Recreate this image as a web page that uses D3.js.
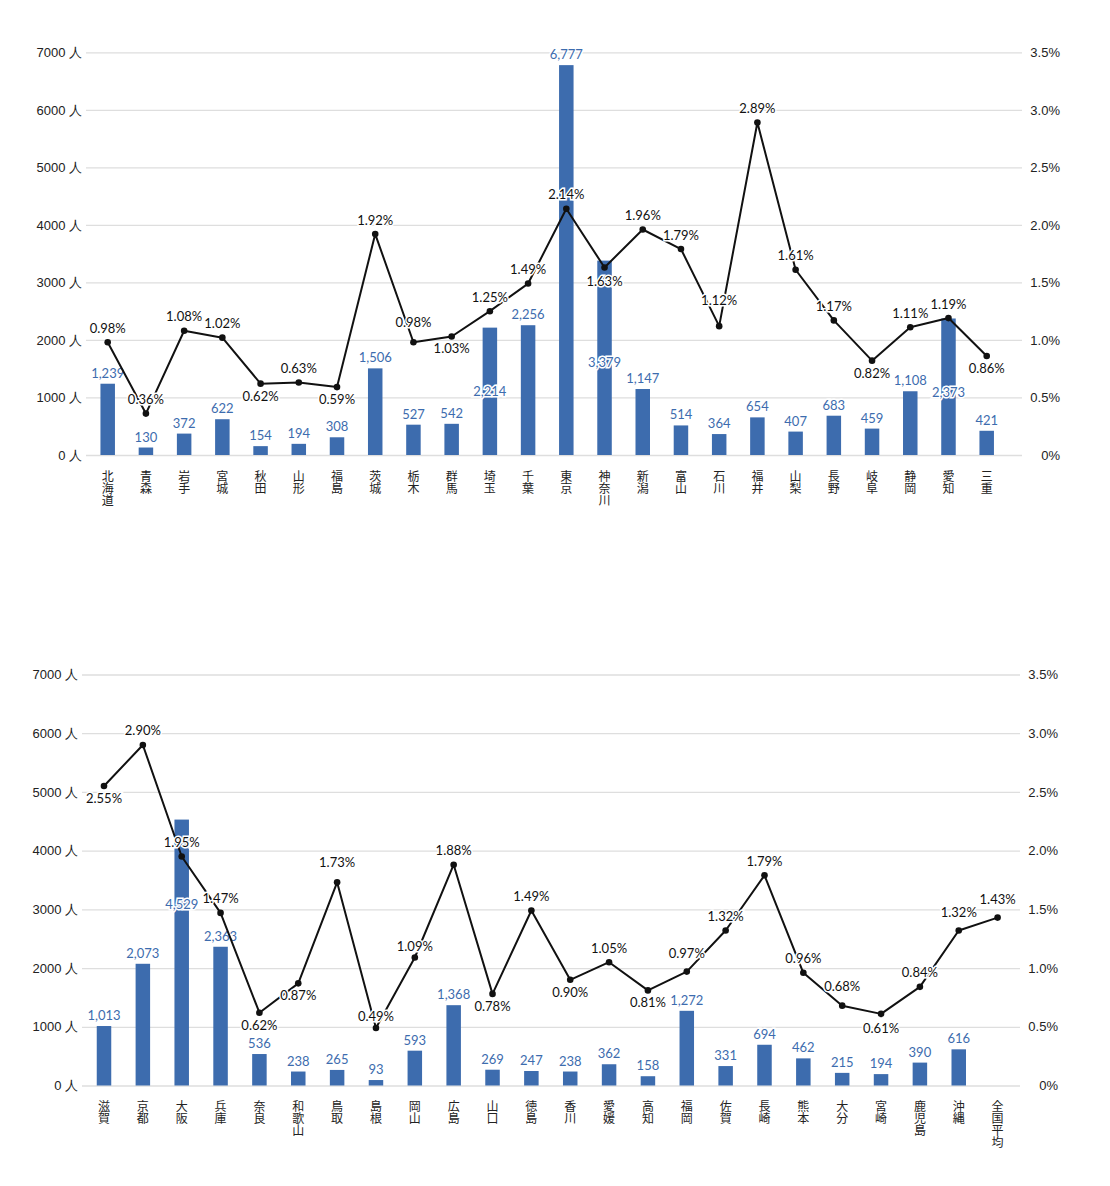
<!DOCTYPE html>
<html>
<head>
<meta charset="utf-8">
<script src="https://cdn.jsdelivr.net/npm/d3@7"></script>
<style>
  body { margin: 0; background: #fff; }
  svg { display: block; font-family: Lato, "Noto Sans CJK JP", sans-serif; }
</style>
</head>
<body>
<svg id="chart" width="1110" height="1186"></svg>
<script>
// top chart: 北海道 .. 三重
const catsTop = ["北海道","青森","岩手","宮城","秋田","山形","福島","茨城","栃木","群馬","埼玉","千葉","東京","神奈川","新潟","富山","石川","福井","山梨","長野","岐阜","静岡","愛知","三重"];
const countsTop = [1239,130,372,622,154,194,308,1506,527,542,2214,2256,6777,3379,1147,514,364,654,407,683,459,1108,2373,421];
const ratesTop = [0.98,0.36,1.08,1.02,0.62,0.63,0.59,1.92,0.98,1.03,1.25,1.49,2.14,1.63,1.96,1.79,1.12,2.89,1.61,1.17,0.82,1.11,1.19,0.86];

// bottom chart: 滋賀 .. 沖縄 + 全国平均 (no bar)
const catsBottom = ["滋賀","京都","大阪","兵庫","奈良","和歌山","鳥取","島根","岡山","広島","山口","徳島","香川","愛媛","高知","福岡","佐賀","長崎","熊本","大分","宮崎","鹿児島","沖縄","全国平均"];
const countsBottom = [1013,2073,4529,2363,536,238,265,93,593,1368,269,247,238,362,158,1272,331,694,462,215,194,390,616,null];
const ratesBottom = [2.55,2.90,1.95,1.47,0.62,0.87,1.73,0.49,1.09,1.88,0.78,1.49,0.90,1.05,0.81,0.97,1.32,1.79,0.96,0.68,0.61,0.84,1.32,1.43];

const countTicks = [0,1000,2000,3000,4000,5000,6000,7000];
const rateTicks = [0,0.5,1.0,1.5,2.0,2.5,3.0,3.5];

// label placement: a = above point, b = below
const placeTop = ["a","a","a","a","b","a","b","a","a","b","a","a",
                  "a","b","a","a","a","a","a","a","b","a","a","b"];
const placeBottom = ["b","a","a","a","b","b","a","a","a","a","b","a",
                     "b","a","b","a","a","a","a","a","b","a","a","a"];
// extra vertical nudges for a few point labels, and bar labels drawn inside tall bars
const lineNudge = {"石川": -12, "栃木": -6, "鳥取": -6, "大分": -5, "福岡": -4, "沖縄": -4, "全国平均": -4, "島根": 3, "岡山": 3, "神奈川": 2, "宮崎": 2};
const barLabelDrop = {"埼玉": 74, "神奈川": 112, "愛知": 85, "大阪": 95};

const blue = "#3d6cae";
const svg = d3.select("#chart");

function drawChart(cats, counts, rates, place, g) {
  const x = d3.scalePoint().domain(cats).range([g.x0, g.x1]);
  const y = d3.scaleLinear().domain([0, 7000]).range([g.bottom, g.top]);
  const yr = d3.scaleLinear().domain([0, 3.5]).range([g.bottom, g.top]);
  const root = svg.append("g");

  // gridlines
  root.append("g")
    .attr("transform", `translate(${g.left},0)`)
    .call(d3.axisLeft(y).tickValues(countTicks).tickSize(-(g.right - g.left)).tickFormat(""))
    .call(a => a.select(".domain").remove())
    .call(a => a.selectAll("line").attr("stroke", "#dedede").attr("stroke-width", 1.3));

  // left axis
  root.append("g")
    .attr("transform", `translate(${g.left},0)`)
    .call(d3.axisLeft(y).tickValues(countTicks).tickSize(0).tickPadding(4).tickFormat(d => d + " 人"))
    .call(a => a.select(".domain").remove())
    .call(a => a.selectAll("text").attr("font-size", 13).attr("fill", "#222"));

  // right axis
  root.append("g")
    .attr("transform", `translate(${g.right},0)`)
    .call(d3.axisRight(yr).tickValues(rateTicks).tickSize(0)
      .tickFormat(d => d === 0 ? "0%" : d.toFixed(1) + "%"))
    .call(a => a.select(".domain").remove())
    .call(a => a.selectAll("text").attr("font-size", 13).attr("fill", "#222")
      .attr("text-anchor", "end").attr("x", 38));

  const rows = cats.map((c, i) => ({c, n: counts[i], r: rates[i], p: place[i]}));
  const withBar = rows.filter(d => d.n != null);

  // bars
  root.selectAll(".bar").data(withBar).join("rect")
    .attr("x", d => x(d.c) - 7.25)
    .attr("width", 14.5)
    .attr("y", d => y(d.n))
    .attr("height", d => y(0) - y(d.n))
    .attr("fill", blue);

  // bar labels
  root.selectAll(".blab").data(withBar).join("text")
    .attr("x", d => x(d.c))
    .attr("y", d => y(d.n) - 6 + (barLabelDrop[d.c] || 0))
    .attr("text-anchor", "middle")
    .attr("font-size", 13)
    .attr("fill", blue)
    .attr("stroke", "#fff").attr("stroke-width", 3).attr("paint-order", "stroke")
    .text(d => d3.format(",")(d.n));

  // line
  root.append("path")
    .datum(rows)
    .attr("fill", "none")
    .attr("stroke", "#111")
    .attr("stroke-width", 2)
    .attr("stroke-linejoin", "round")
    .attr("d", d3.line().x(d => x(d.c)).y(d => yr(d.r)));

  root.selectAll(".pt").data(rows).join("circle")
    .attr("cx", d => x(d.c)).attr("cy", d => yr(d.r)).attr("r", 3.3).attr("fill", "#111");

  root.selectAll(".llab").data(rows).join("text")
    .attr("x", d => x(d.c))
    .attr("y", d => yr(d.r) + (d.p === "a" ? -9.5 : 17) + (lineNudge[d.c] || 0))
    .attr("text-anchor", "middle")
    .attr("font-size", 13)
    .attr("fill", "#111")
    .attr("stroke", "#fff").attr("stroke-width", 3).attr("paint-order", "stroke")
    .text(d => d.r.toFixed(2) + "%");

  // vertical category labels
  root.selectAll(".cat").data(cats).join("text")
    .attr("x", d => x(d))
    .attr("y", g.bottom + 15)
    .attr("writing-mode", "vertical-rl")
    .attr("font-size", 12)
    .attr("font-family", "'Noto Sans CJK JP', sans-serif")
    .attr("fill", "#222")
    .text(d => d);
}

drawChart(catsTop, countsTop, ratesTop, placeTop,
  {top: 52.3, bottom: 455, left: 86, right: 1022, x0: 107.7, x1: 986.7});
drawChart(catsBottom, countsBottom, ratesBottom, placeBottom,
  {top: 674.5, bottom: 1085.5, left: 82, right: 1020, x0: 104, x1: 997.6});
</script>
</body>
</html>
